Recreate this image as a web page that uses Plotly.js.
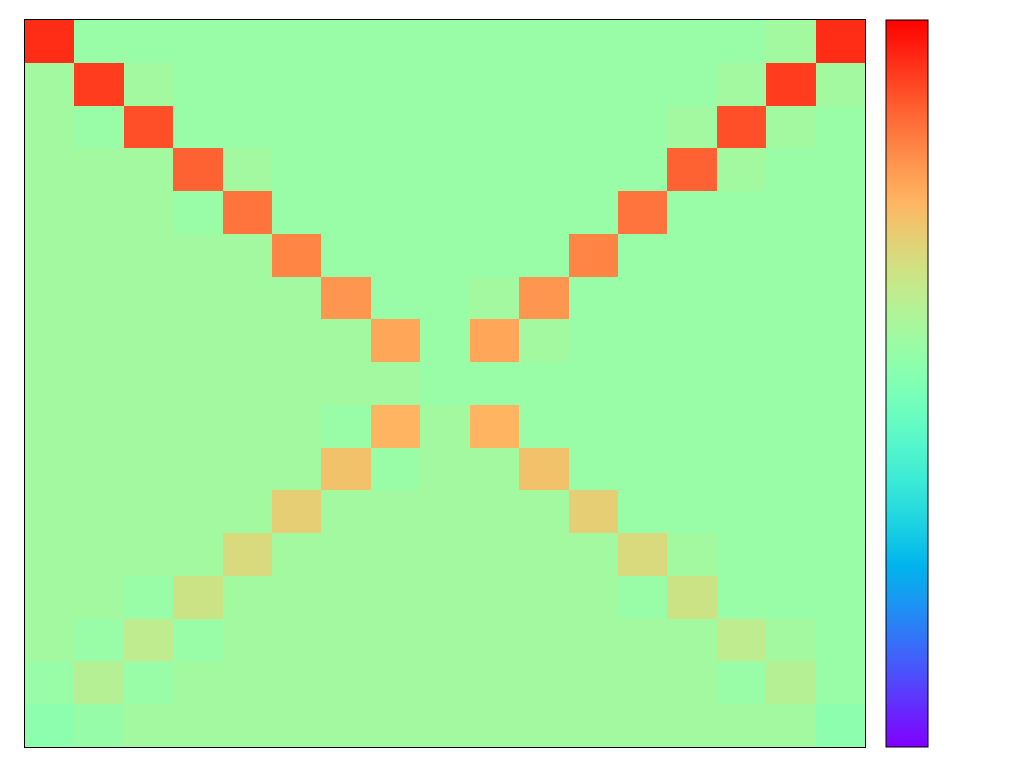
<!DOCTYPE html>
<html>
<head>
<meta charset="utf-8">
<script src="https://cdn.plot.ly/plotly-3.0.1.min.js"></script>
<style>html,body{margin:0;padding:0;background:#fff;}#chart{width:1024px;height:768px;}</style>
</head>
<body>
<div id="chart"></div>
<script>
// Column and row labels (17 x 17 grid)
var columns = [0,1,2,3,4,5,6,7,8,9,10,11,12,13,14,15,16];
var rowLabels = [0,1,2,3,4,5,6,7,8,9,10,11,12,13,14,15,16];

// Cell values (top row first)
var row00 = [0.89,0.10,0.10,0.10,0.10,0.10,0.10,0.10,0.10,0.10,0.10,0.10,0.10,0.10,0.10,0.14,0.89];
var row01 = [0.14,0.85,0.14,0.10,0.10,0.10,0.10,0.10,0.10,0.10,0.10,0.10,0.10,0.10,0.14,0.85,0.14];
var row02 = [0.14,0.10,0.80,0.10,0.10,0.10,0.10,0.10,0.10,0.10,0.10,0.10,0.10,0.14,0.80,0.14,0.10];
var row03 = [0.14,0.14,0.14,0.75,0.14,0.10,0.10,0.10,0.10,0.10,0.10,0.10,0.10,0.75,0.14,0.10,0.10];
var row04 = [0.14,0.14,0.14,0.10,0.70,0.10,0.10,0.10,0.10,0.10,0.10,0.10,0.70,0.10,0.10,0.10,0.10];
var row05 = [0.14,0.14,0.14,0.14,0.14,0.65,0.10,0.10,0.10,0.10,0.10,0.65,0.10,0.10,0.10,0.10,0.10];
var row06 = [0.14,0.14,0.14,0.14,0.14,0.14,0.60,0.10,0.10,0.14,0.60,0.10,0.10,0.10,0.10,0.10,0.10];
var row07 = [0.14,0.14,0.14,0.14,0.14,0.14,0.14,0.55,0.10,0.55,0.14,0.10,0.10,0.10,0.10,0.10,0.10];
var row08 = [0.14,0.14,0.14,0.14,0.14,0.14,0.14,0.14,0.10,0.10,0.10,0.10,0.10,0.10,0.10,0.10,0.10];
var row09 = [0.14,0.14,0.14,0.14,0.14,0.14,0.10,0.50,0.14,0.50,0.10,0.10,0.10,0.10,0.10,0.10,0.10];
var row10 = [0.14,0.14,0.14,0.14,0.14,0.14,0.45,0.10,0.14,0.14,0.45,0.10,0.10,0.10,0.10,0.10,0.10];
var row11 = [0.14,0.14,0.14,0.14,0.14,0.40,0.14,0.14,0.14,0.14,0.14,0.40,0.10,0.10,0.10,0.10,0.10];
var row12 = [0.14,0.14,0.14,0.14,0.35,0.14,0.14,0.14,0.14,0.14,0.14,0.14,0.35,0.14,0.10,0.10,0.10];
var row13 = [0.14,0.14,0.10,0.30,0.14,0.14,0.14,0.14,0.14,0.14,0.14,0.14,0.10,0.30,0.10,0.10,0.10];
var row14 = [0.14,0.10,0.25,0.10,0.14,0.14,0.14,0.14,0.14,0.14,0.14,0.14,0.14,0.14,0.25,0.14,0.10];
var row15 = [0.10,0.21,0.10,0.14,0.14,0.14,0.14,0.14,0.14,0.14,0.14,0.14,0.14,0.14,0.10,0.21,0.10];
var row16 = [0.05,0.09,0.14,0.14,0.14,0.14,0.14,0.14,0.14,0.14,0.14,0.14,0.14,0.14,0.14,0.14,0.05];

var z = [row00,row01,row02,row03,row04,row05,row06,row07,row08,row09,row10,row11,row12,row13,row14,row15,row16];

// Rainbow colour scale (purple -> blue -> cyan -> green -> orange -> red)
function rainbow(t){
  var r = Math.min(1, Math.abs(2*t - 0.5));
  var g = Math.abs(Math.sin(Math.PI*t));
  var b = Math.abs(Math.cos(Math.PI*t/2));
  return 'rgb(' + Math.round(r*255) + ',' + Math.round(g*255) + ',' + Math.round(b*255) + ')';
}
var scale = [];
var N = 64;
for (var i = 0; i <= N; i++) { scale.push([i/N, rainbow(i/N)]); }

var trace = {
  type: 'heatmap',
  x: columns,
  y: rowLabels,
  z: z,
  zmin: -1,
  zmax: 1,
  colorscale: scale,
  hoverinfo: 'x+y+z',
  colorbar: {
    x: 1.025, xanchor: 'left', xpad: 0, ypad: 0,
    y: 0.5, yanchor: 'middle', len: 1, lenmode: 'fraction',
    thickness: 42, thicknessmode: 'pixels',
    outlinewidth: 1, outlinecolor: '#000',
    showticklabels: false, ticks: ''
  }
};

var layout = {
  width: 1024, height: 768,
  margin: {l: 25, r: 159, t: 20, b: 21, pad: 0},
  paper_bgcolor: '#fff', plot_bgcolor: '#fff',
  xaxis: {showgrid: false, zeroline: false, showticklabels: false, ticks: '',
          showline: true, mirror: true, linecolor: '#000', linewidth: 1},
  yaxis: {showgrid: false, zeroline: false, showticklabels: false, ticks: '',
          showline: true, mirror: true, linecolor: '#000', linewidth: 1, autorange: 'reversed'}
};

Plotly.newPlot('chart', [trace], layout, {displayModeBar: false, staticPlot: true});
</script>
</body>
</html>
